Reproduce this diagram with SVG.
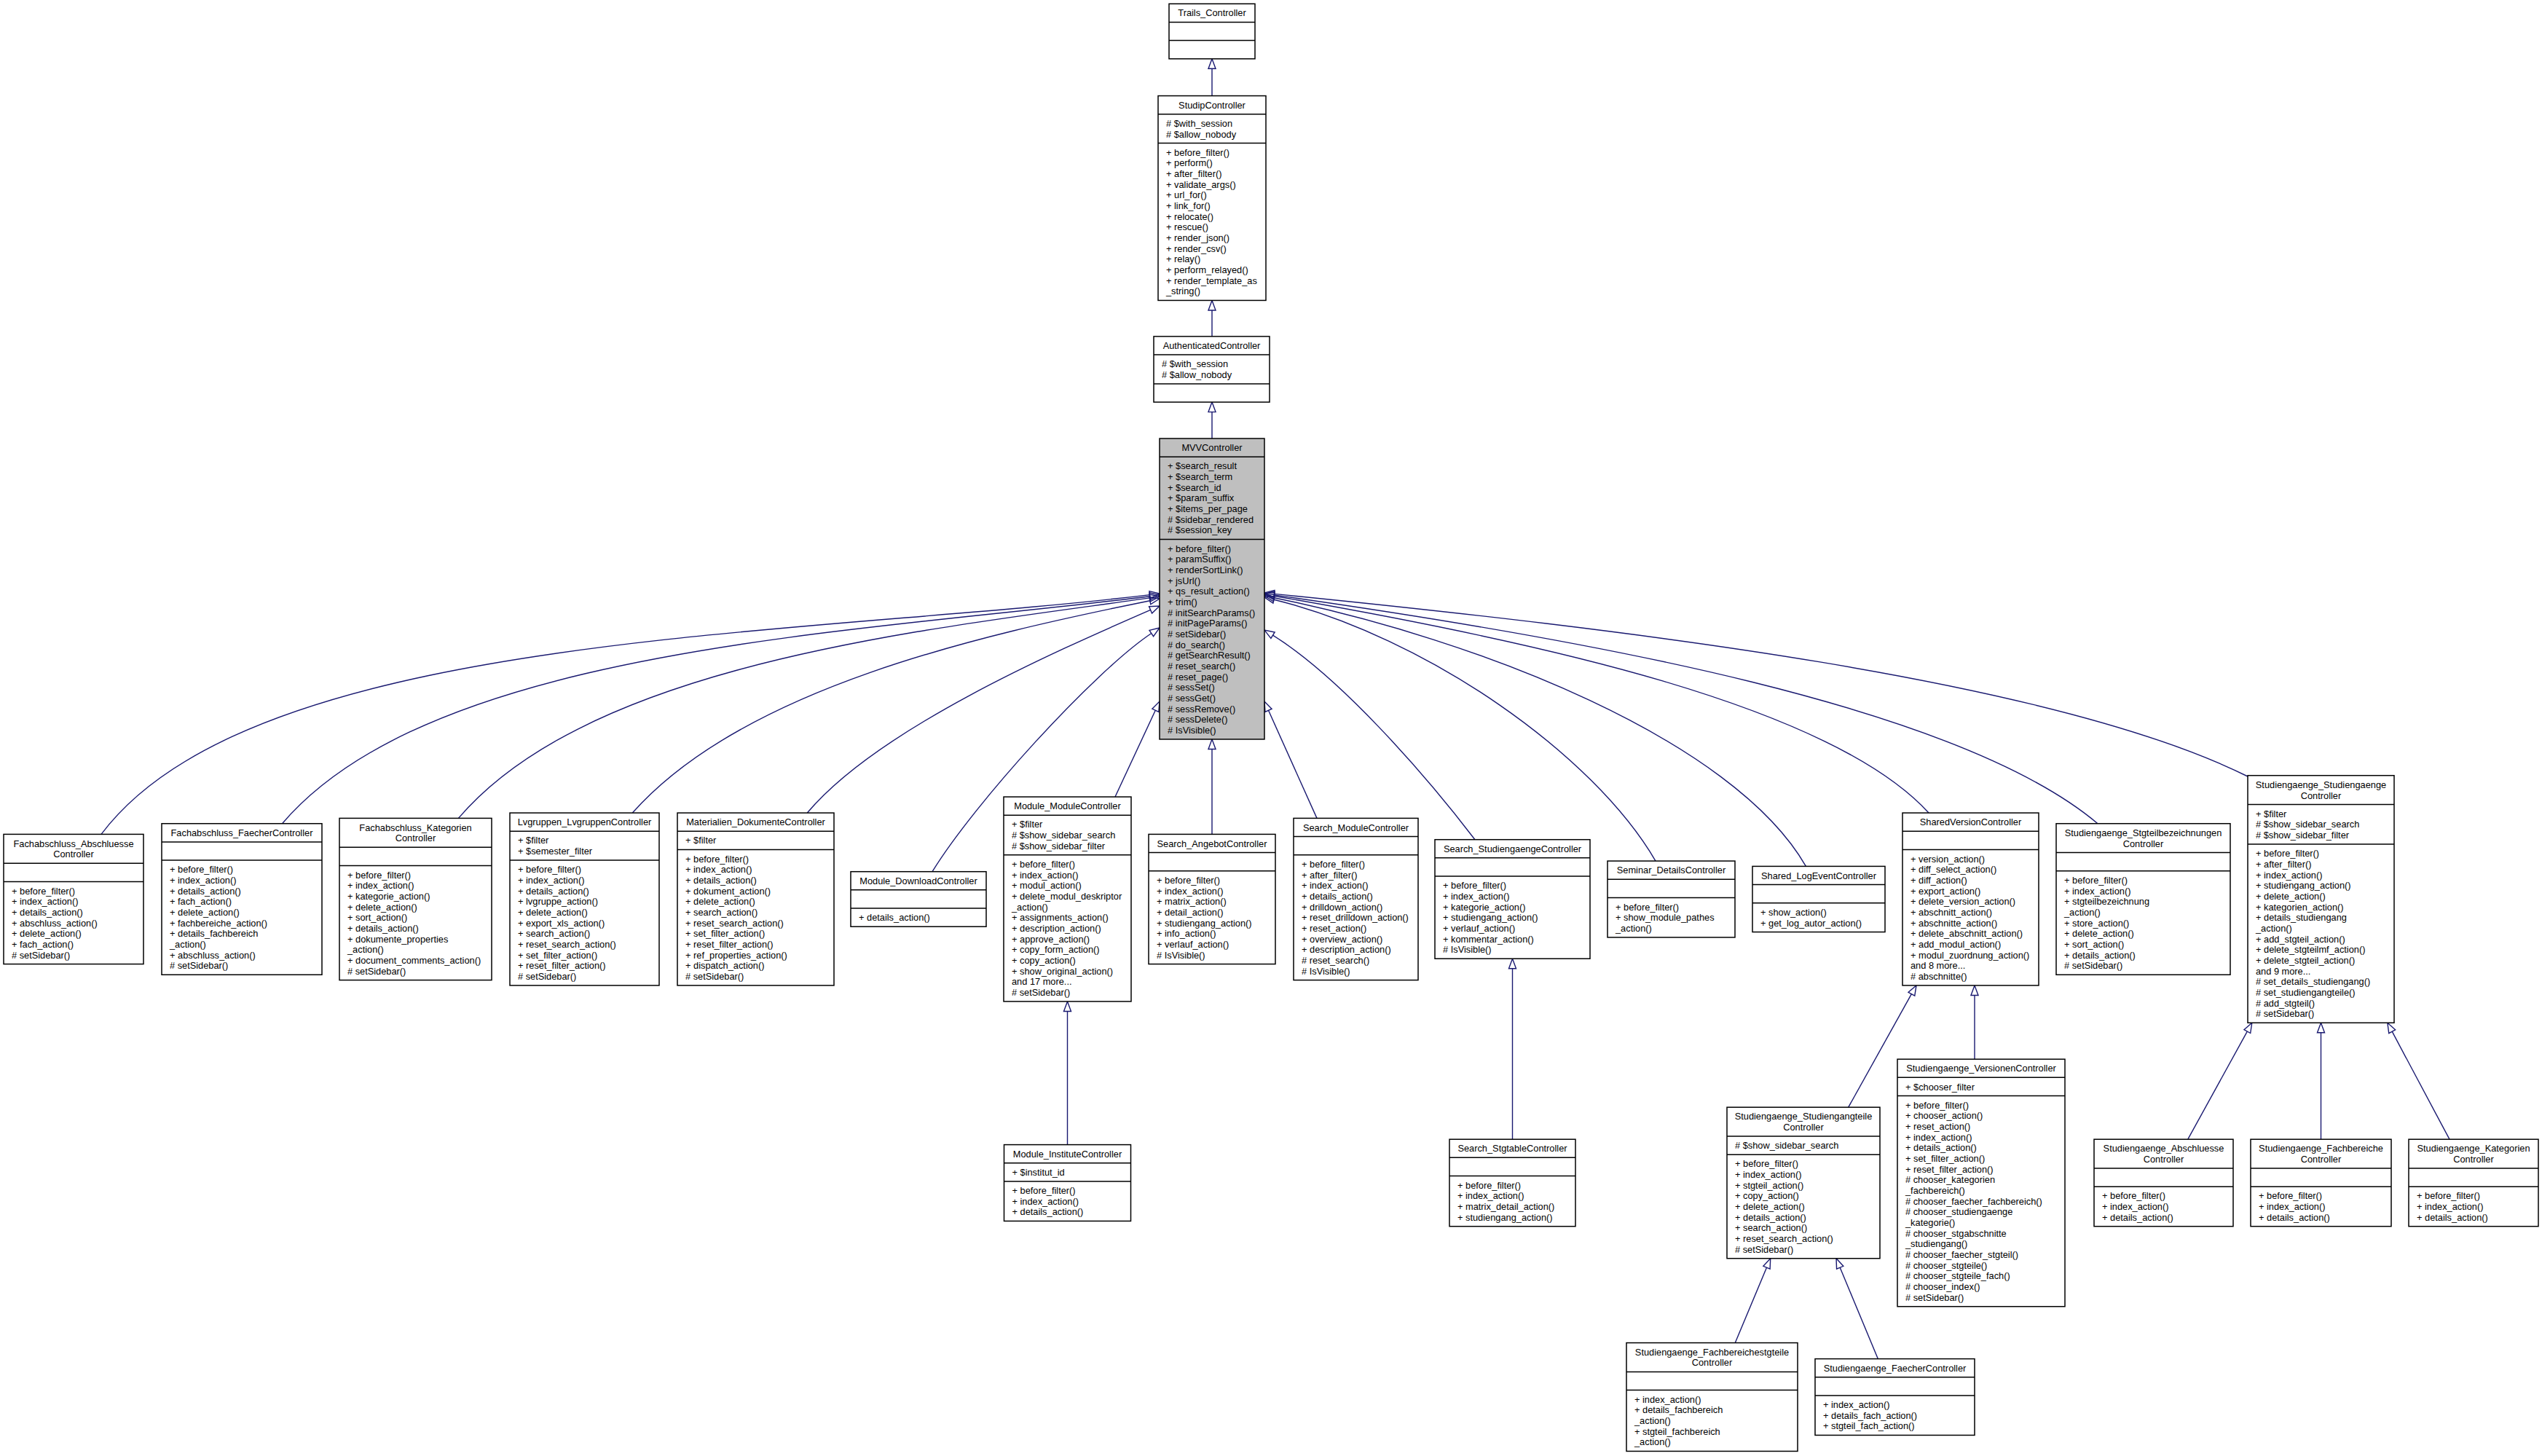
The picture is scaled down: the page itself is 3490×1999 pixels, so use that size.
<svg xmlns="http://www.w3.org/2000/svg" width="3490" height="1999" viewBox="0 0 3490 1999">
<style>
.box{fill:#fff;stroke:#000;stroke-width:1.5}
.hl{fill:#bfbfbf}
.sep{stroke:#000;stroke-width:1.5}
text{font-family:"Liberation Sans",Arial,Helvetica,sans-serif;font-size:12.8px;fill:#000}
.t{text-anchor:middle}
.e{fill:none;stroke:#191970;stroke-width:1.4;marker-end:url(#arr)}
</style>
<defs>
<marker id="arr" markerUnits="userSpaceOnUse" markerWidth="16" markerHeight="12" refX="0" refY="5" orient="auto" overflow="visible">
<path d="M0,0 L13.5,5 L0,10 Z" fill="none" stroke="#191970" stroke-width="1.4"/>
</marker>
</defs>
<rect x="0" y="0" width="3490" height="1999" fill="#fff"/>

<g id="connectors">
<path class="e" d="M1664,131.55 L1664,94.26"/>
<path class="e" d="M1664,461.9 L1664,425.94"/>
<path class="e" d="M1664,602.04 L1664,565.58"/>
<path class="e" d="M1664,1145.4 L1664,1028.46"/>
<path class="e" d="M1465.5,1571.6 L1465.5,1388.44"/>
<path class="e" d="M2076.5,1564.2 L2076.5,1329.73"/>
<path class="e" d="M2711,1454.2 L2711,1366.44"/>
<path class="e" d="M2537.7,1520.2 L2624.4,1364.7"/>
<path class="e" d="M2382.3,1843.6 L2425.5,1740.2"/>
<path class="e" d="M2578.3,1865.6 L2526.2,1740.2"/>
<path class="e" d="M3003.8,1564.2 L3085.3,1416.1"/>
<path class="e" d="M3186.5,1564.2 L3186.5,1417.77"/>
<path class="e" d="M3363,1564.2 L3284.2,1416.2"/>
<path class="e" d="M139,1145.4 C349,865.4 1097,875 1578.6,816.6"/>
<path class="e" d="M387.5,1130.7 C595.5,887.5 1175.4,869.5 1578.6,818.7"/>
<path class="e" d="M629.4,1123.4 C811.4,910.6 1265.3,865.2 1578.6,820.9"/>
<path class="e" d="M868.3,1116.06 C1021,944 1347,872 1578.8,824.7"/>
<path class="e" d="M1108.3,1116.06 C1204.8,1001.2 1445.3,895.8 1579.6,837.4"/>
<path class="e" d="M1280,1196.7 C1337.5,1103 1500.7,923.3 1580.8,869.5"/>
<path class="e" d="M1531,1094.05 L1586.3,975.24"/>
<path class="e" d="M1808,1123.4 L1741.5,975.3"/>
<path class="e" d="M2025,1152.7 C1952,1057.4 1838,928.6 1747.5,872.2"/>
<path class="e" d="M2273,1182.1 C2187.3,1035.2 1959.1,875.2 1749.1,823.2"/>
<path class="e" d="M2479.4,1189.4 C2380,1015.8 2030,878 1749.2,820.7"/>
<path class="e" d="M2648,1116.06 C2513.4,968.3 2110.3,880.6 1749.3,818.3"/>
<path class="e" d="M2880,1130.73 C2689,969.5 2181.5,878 1749.4,816.9"/>
<path class="e" d="M3086,1066 C2818.4,932.7 2233.5,864 1749.4,815.35"/>
</g>

<g id="Trails_Controller">
<rect class="box" x="1605" y="5.25" width="118" height="75.51"/>
<line class="sep" x1="1605" y1="30.42" x2="1723" y2="30.42"/>
<line class="sep" x1="1605" y1="55.59" x2="1723" y2="55.59"/>
<text class="t" x="1664" y="22.45">Trails_Controller</text>
</g>

<g id="StudipController">
<rect class="box" x="1590" y="131.55" width="148" height="280.89"/>
<line class="sep" x1="1590" y1="156.72" x2="1738" y2="156.72"/>
<line class="sep" x1="1590" y1="196.56" x2="1738" y2="196.56"/>
<text class="t" x="1664" y="148.75">StudipController</text>
<text x="1601" y="173.92"># $with_session<tspan x="1601" dy="14.67"># $allow_nobody</tspan></text>
<text x="1601" y="213.76">+ before_filter()<tspan x="1601" dy="14.67">+ perform()</tspan><tspan x="1601" dy="14.67">+ after_filter()</tspan><tspan x="1601" dy="14.67">+ validate_args()</tspan><tspan x="1601" dy="14.67">+ url_for()</tspan><tspan x="1601" dy="14.67">+ link_for()</tspan><tspan x="1601" dy="14.67">+ relocate()</tspan><tspan x="1601" dy="14.67">+ rescue()</tspan><tspan x="1601" dy="14.67">+ render_json()</tspan><tspan x="1601" dy="14.67">+ render_csv()</tspan><tspan x="1601" dy="14.67">+ relay()</tspan><tspan x="1601" dy="14.67">+ perform_relayed()</tspan><tspan x="1601" dy="14.67">+ render_template_as</tspan><tspan x="1601" dy="14.67">_string()</tspan></text>
</g>

<g id="AuthenticatedController">
<rect class="box" x="1584" y="461.9" width="159" height="90.18"/>
<line class="sep" x1="1584" y1="487.07" x2="1743" y2="487.07"/>
<line class="sep" x1="1584" y1="526.91" x2="1743" y2="526.91"/>
<text class="t" x="1663.5" y="479.1">AuthenticatedController</text>
<text x="1595" y="504.27"># $with_session<tspan x="1595" dy="14.67"># $allow_nobody</tspan></text>
</g>

<g id="MVVController">
<rect class="box hl" x="1592" y="602.04" width="144" height="412.92"/>
<line class="sep" x1="1592" y1="627.21" x2="1736" y2="627.21"/>
<line class="sep" x1="1592" y1="740.4" x2="1736" y2="740.4"/>
<text class="t" x="1664" y="619.24">MVVController</text>
<text x="1603" y="644.41">+ $search_result<tspan x="1603" dy="14.67">+ $search_term</tspan><tspan x="1603" dy="14.67">+ $search_id</tspan><tspan x="1603" dy="14.67">+ $param_suffix</tspan><tspan x="1603" dy="14.67">+ $items_per_page</tspan><tspan x="1603" dy="14.67"># $sidebar_rendered</tspan><tspan x="1603" dy="14.67"># $session_key</tspan></text>
<text x="1603" y="757.6">+ before_filter()<tspan x="1603" dy="14.67">+ paramSuffix()</tspan><tspan x="1603" dy="14.67">+ renderSortLink()</tspan><tspan x="1603" dy="14.67">+ jsUrl()</tspan><tspan x="1603" dy="14.67">+ qs_result_action()</tspan><tspan x="1603" dy="14.67">+ trim()</tspan><tspan x="1603" dy="14.67"># initSearchParams()</tspan><tspan x="1603" dy="14.67"># initPageParams()</tspan><tspan x="1603" dy="14.67"># setSidebar()</tspan><tspan x="1603" dy="14.67"># do_search()</tspan><tspan x="1603" dy="14.67"># getSearchResult()</tspan><tspan x="1603" dy="14.67"># reset_search()</tspan><tspan x="1603" dy="14.67"># reset_page()</tspan><tspan x="1603" dy="14.67"># sessSet()</tspan><tspan x="1603" dy="14.67"># sessGet()</tspan><tspan x="1603" dy="14.67"># sessRemove()</tspan><tspan x="1603" dy="14.67"># sessDelete()</tspan><tspan x="1603" dy="14.67"># IsVisible()</tspan></text>
</g>

<g id="Fachabschluss_AbschluesseController">
<rect class="box" x="5" y="1145.4" width="192" height="178.2"/>
<line class="sep" x1="5" y1="1185.24" x2="197" y2="1185.24"/>
<line class="sep" x1="5" y1="1210.41" x2="197" y2="1210.41"/>
<text class="t" x="101" y="1162.6">Fachabschluss_Abschluesse<tspan x="101" dy="14.67">Controller</tspan></text>
<text x="16" y="1227.61">+ before_filter()<tspan x="16" dy="14.67">+ index_action()</tspan><tspan x="16" dy="14.67">+ details_action()</tspan><tspan x="16" dy="14.67">+ abschluss_action()</tspan><tspan x="16" dy="14.67">+ delete_action()</tspan><tspan x="16" dy="14.67">+ fach_action()</tspan><tspan x="16" dy="14.67"># setSidebar()</tspan></text>
</g>

<g id="Fachabschluss_FaecherController">
<rect class="box" x="222" y="1130.73" width="220" height="207.54"/>
<line class="sep" x1="222" y1="1155.9" x2="442" y2="1155.9"/>
<line class="sep" x1="222" y1="1181.07" x2="442" y2="1181.07"/>
<text class="t" x="332" y="1147.93">Fachabschluss_FaecherController</text>
<text x="233" y="1198.27">+ before_filter()<tspan x="233" dy="14.67">+ index_action()</tspan><tspan x="233" dy="14.67">+ details_action()</tspan><tspan x="233" dy="14.67">+ fach_action()</tspan><tspan x="233" dy="14.67">+ delete_action()</tspan><tspan x="233" dy="14.67">+ fachbereiche_action()</tspan><tspan x="233" dy="14.67">+ details_fachbereich</tspan><tspan x="233" dy="14.67">_action()</tspan><tspan x="233" dy="14.67">+ abschluss_action()</tspan><tspan x="233" dy="14.67"># setSidebar()</tspan></text>
</g>

<g id="Fachabschluss_KategorienController">
<rect class="box" x="466" y="1123.4" width="209" height="222.21"/>
<line class="sep" x1="466" y1="1163.24" x2="675" y2="1163.24"/>
<line class="sep" x1="466" y1="1188.41" x2="675" y2="1188.41"/>
<text class="t" x="570.5" y="1140.6">Fachabschluss_Kategorien<tspan x="570.5" dy="14.67">Controller</tspan></text>
<text x="477" y="1205.61">+ before_filter()<tspan x="477" dy="14.67">+ index_action()</tspan><tspan x="477" dy="14.67">+ kategorie_action()</tspan><tspan x="477" dy="14.67">+ delete_action()</tspan><tspan x="477" dy="14.67">+ sort_action()</tspan><tspan x="477" dy="14.67">+ details_action()</tspan><tspan x="477" dy="14.67">+ dokumente_properties</tspan><tspan x="477" dy="14.67">_action()</tspan><tspan x="477" dy="14.67">+ document_comments_action()</tspan><tspan x="477" dy="14.67"># setSidebar()</tspan></text>
</g>

<g id="Lvgruppen_LvgruppenController">
<rect class="box" x="700" y="1116.06" width="205" height="236.88"/>
<line class="sep" x1="700" y1="1141.23" x2="905" y2="1141.23"/>
<line class="sep" x1="700" y1="1181.07" x2="905" y2="1181.07"/>
<text class="t" x="802.5" y="1133.26">Lvgruppen_LvgruppenController</text>
<text x="711" y="1158.43">+ $filter<tspan x="711" dy="14.67">+ $semester_filter</tspan></text>
<text x="711" y="1198.27">+ before_filter()<tspan x="711" dy="14.67">+ index_action()</tspan><tspan x="711" dy="14.67">+ details_action()</tspan><tspan x="711" dy="14.67">+ lvgruppe_action()</tspan><tspan x="711" dy="14.67">+ delete_action()</tspan><tspan x="711" dy="14.67">+ export_xls_action()</tspan><tspan x="711" dy="14.67">+ search_action()</tspan><tspan x="711" dy="14.67">+ reset_search_action()</tspan><tspan x="711" dy="14.67">+ set_filter_action()</tspan><tspan x="711" dy="14.67">+ reset_filter_action()</tspan><tspan x="711" dy="14.67"># setSidebar()</tspan></text>
</g>

<g id="Materialien_DokumenteController">
<rect class="box" x="930" y="1116.06" width="215" height="236.88"/>
<line class="sep" x1="930" y1="1141.23" x2="1145" y2="1141.23"/>
<line class="sep" x1="930" y1="1166.4" x2="1145" y2="1166.4"/>
<text class="t" x="1037.5" y="1133.26">Materialien_DokumenteController</text>
<text x="941" y="1158.43">+ $filter</text>
<text x="941" y="1183.6">+ before_filter()<tspan x="941" dy="14.67">+ index_action()</tspan><tspan x="941" dy="14.67">+ details_action()</tspan><tspan x="941" dy="14.67">+ dokument_action()</tspan><tspan x="941" dy="14.67">+ delete_action()</tspan><tspan x="941" dy="14.67">+ search_action()</tspan><tspan x="941" dy="14.67">+ reset_search_action()</tspan><tspan x="941" dy="14.67">+ set_filter_action()</tspan><tspan x="941" dy="14.67">+ reset_filter_action()</tspan><tspan x="941" dy="14.67">+ ref_properties_action()</tspan><tspan x="941" dy="14.67">+ dispatch_action()</tspan><tspan x="941" dy="14.67"># setSidebar()</tspan></text>
</g>

<g id="Module_DownloadController">
<rect class="box" x="1168" y="1196.7" width="186" height="75.51"/>
<line class="sep" x1="1168" y1="1221.87" x2="1354" y2="1221.87"/>
<line class="sep" x1="1168" y1="1247.04" x2="1354" y2="1247.04"/>
<text class="t" x="1261" y="1213.9">Module_DownloadController</text>
<text x="1179" y="1264.24">+ details_action()</text>
</g>

<g id="Module_ModuleController">
<rect class="box" x="1378" y="1094.05" width="175" height="280.89"/>
<line class="sep" x1="1378" y1="1119.22" x2="1553" y2="1119.22"/>
<line class="sep" x1="1378" y1="1173.73" x2="1553" y2="1173.73"/>
<text class="t" x="1465.5" y="1111.25">Module_ModuleController</text>
<text x="1389" y="1136.42">+ $filter<tspan x="1389" dy="14.67"># $show_sidebar_search</tspan><tspan x="1389" dy="14.67"># $show_sidebar_filter</tspan></text>
<text x="1389" y="1190.93">+ before_filter()<tspan x="1389" dy="14.67">+ index_action()</tspan><tspan x="1389" dy="14.67">+ modul_action()</tspan><tspan x="1389" dy="14.67">+ delete_modul_deskriptor</tspan><tspan x="1389" dy="14.67">_action()</tspan><tspan x="1389" dy="14.67">+ assignments_action()</tspan><tspan x="1389" dy="14.67">+ description_action()</tspan><tspan x="1389" dy="14.67">+ approve_action()</tspan><tspan x="1389" dy="14.67">+ copy_form_action()</tspan><tspan x="1389" dy="14.67">+ copy_action()</tspan><tspan x="1389" dy="14.67">+ show_original_action()</tspan><tspan x="1389" dy="14.67">and 17 more...</tspan><tspan x="1389" dy="14.67"># setSidebar()</tspan></text>
</g>

<g id="Search_AngebotController">
<rect class="box" x="1577" y="1145.4" width="174" height="178.2"/>
<line class="sep" x1="1577" y1="1170.57" x2="1751" y2="1170.57"/>
<line class="sep" x1="1577" y1="1195.74" x2="1751" y2="1195.74"/>
<text class="t" x="1664" y="1162.6">Search_AngebotController</text>
<text x="1588" y="1212.94">+ before_filter()<tspan x="1588" dy="14.67">+ index_action()</tspan><tspan x="1588" dy="14.67">+ matrix_action()</tspan><tspan x="1588" dy="14.67">+ detail_action()</tspan><tspan x="1588" dy="14.67">+ studiengang_action()</tspan><tspan x="1588" dy="14.67">+ info_action()</tspan><tspan x="1588" dy="14.67">+ verlauf_action()</tspan><tspan x="1588" dy="14.67"># IsVisible()</tspan></text>
</g>

<g id="Search_ModuleController">
<rect class="box" x="1776" y="1123.4" width="171" height="222.21"/>
<line class="sep" x1="1776" y1="1148.57" x2="1947" y2="1148.57"/>
<line class="sep" x1="1776" y1="1173.74" x2="1947" y2="1173.74"/>
<text class="t" x="1861.5" y="1140.6">Search_ModuleController</text>
<text x="1787" y="1190.94">+ before_filter()<tspan x="1787" dy="14.67">+ after_filter()</tspan><tspan x="1787" dy="14.67">+ index_action()</tspan><tspan x="1787" dy="14.67">+ details_action()</tspan><tspan x="1787" dy="14.67">+ drilldown_action()</tspan><tspan x="1787" dy="14.67">+ reset_drilldown_action()</tspan><tspan x="1787" dy="14.67">+ reset_action()</tspan><tspan x="1787" dy="14.67">+ overview_action()</tspan><tspan x="1787" dy="14.67">+ description_action()</tspan><tspan x="1787" dy="14.67"># reset_search()</tspan><tspan x="1787" dy="14.67"># IsVisible()</tspan></text>
</g>

<g id="Search_StudiengaengeController">
<rect class="box" x="1970" y="1152.7" width="213" height="163.53"/>
<line class="sep" x1="1970" y1="1177.87" x2="2183" y2="1177.87"/>
<line class="sep" x1="1970" y1="1203.04" x2="2183" y2="1203.04"/>
<text class="t" x="2076.5" y="1169.9">Search_StudiengaengeController</text>
<text x="1981" y="1220.24">+ before_filter()<tspan x="1981" dy="14.67">+ index_action()</tspan><tspan x="1981" dy="14.67">+ kategorie_action()</tspan><tspan x="1981" dy="14.67">+ studiengang_action()</tspan><tspan x="1981" dy="14.67">+ verlauf_action()</tspan><tspan x="1981" dy="14.67">+ kommentar_action()</tspan><tspan x="1981" dy="14.67"># IsVisible()</tspan></text>
</g>

<g id="Seminar_DetailsController">
<rect class="box" x="2207" y="1182.1" width="175" height="104.85"/>
<line class="sep" x1="2207" y1="1207.27" x2="2382" y2="1207.27"/>
<line class="sep" x1="2207" y1="1232.44" x2="2382" y2="1232.44"/>
<text class="t" x="2294.5" y="1199.3">Seminar_DetailsController</text>
<text x="2218" y="1249.64">+ before_filter()<tspan x="2218" dy="14.67">+ show_module_pathes</tspan><tspan x="2218" dy="14.67">_action()</tspan></text>
</g>

<g id="Shared_LogEventController">
<rect class="box" x="2406" y="1189.4" width="182" height="90.18"/>
<line class="sep" x1="2406" y1="1214.57" x2="2588" y2="1214.57"/>
<line class="sep" x1="2406" y1="1239.74" x2="2588" y2="1239.74"/>
<text class="t" x="2497" y="1206.6">Shared_LogEventController</text>
<text x="2417" y="1256.94">+ show_action()<tspan x="2417" dy="14.67">+ get_log_autor_action()</tspan></text>
</g>

<g id="SharedVersionController">
<rect class="box" x="2612" y="1116.06" width="187" height="236.88"/>
<line class="sep" x1="2612" y1="1141.23" x2="2799" y2="1141.23"/>
<line class="sep" x1="2612" y1="1166.4" x2="2799" y2="1166.4"/>
<text class="t" x="2705.5" y="1133.26">SharedVersionController</text>
<text x="2623" y="1183.6">+ version_action()<tspan x="2623" dy="14.67">+ diff_select_action()</tspan><tspan x="2623" dy="14.67">+ diff_action()</tspan><tspan x="2623" dy="14.67">+ export_action()</tspan><tspan x="2623" dy="14.67">+ delete_version_action()</tspan><tspan x="2623" dy="14.67">+ abschnitt_action()</tspan><tspan x="2623" dy="14.67">+ abschnitte_action()</tspan><tspan x="2623" dy="14.67">+ delete_abschnitt_action()</tspan><tspan x="2623" dy="14.67">+ add_modul_action()</tspan><tspan x="2623" dy="14.67">+ modul_zuordnung_action()</tspan><tspan x="2623" dy="14.67">and 8 more...</tspan><tspan x="2623" dy="14.67"># abschnitte()</tspan></text>
</g>

<g id="Studiengaenge_StgteilbezeichnungenController">
<rect class="box" x="2823" y="1130.73" width="239" height="207.54"/>
<line class="sep" x1="2823" y1="1170.57" x2="3062" y2="1170.57"/>
<line class="sep" x1="2823" y1="1195.74" x2="3062" y2="1195.74"/>
<text class="t" x="2942.5" y="1147.93">Studiengaenge_Stgteilbezeichnungen<tspan x="2942.5" dy="14.67">Controller</tspan></text>
<text x="2834" y="1212.94">+ before_filter()<tspan x="2834" dy="14.67">+ index_action()</tspan><tspan x="2834" dy="14.67">+ stgteilbezeichnung</tspan><tspan x="2834" dy="14.67">_action()</tspan><tspan x="2834" dy="14.67">+ store_action()</tspan><tspan x="2834" dy="14.67">+ delete_action()</tspan><tspan x="2834" dy="14.67">+ sort_action()</tspan><tspan x="2834" dy="14.67">+ details_action()</tspan><tspan x="2834" dy="14.67"># setSidebar()</tspan></text>
</g>

<g id="Studiengaenge_StudiengaengeController">
<rect class="box" x="3086" y="1064.7" width="201" height="339.57"/>
<line class="sep" x1="3086" y1="1104.54" x2="3287" y2="1104.54"/>
<line class="sep" x1="3086" y1="1159.05" x2="3287" y2="1159.05"/>
<text class="t" x="3186.5" y="1081.9">Studiengaenge_Studiengaenge<tspan x="3186.5" dy="14.67">Controller</tspan></text>
<text x="3097" y="1121.74">+ $filter<tspan x="3097" dy="14.67"># $show_sidebar_search</tspan><tspan x="3097" dy="14.67"># $show_sidebar_filter</tspan></text>
<text x="3097" y="1176.25">+ before_filter()<tspan x="3097" dy="14.67">+ after_filter()</tspan><tspan x="3097" dy="14.67">+ index_action()</tspan><tspan x="3097" dy="14.67">+ studiengang_action()</tspan><tspan x="3097" dy="14.67">+ delete_action()</tspan><tspan x="3097" dy="14.67">+ kategorien_action()</tspan><tspan x="3097" dy="14.67">+ details_studiengang</tspan><tspan x="3097" dy="14.67">_action()</tspan><tspan x="3097" dy="14.67">+ add_stgteil_action()</tspan><tspan x="3097" dy="14.67">+ delete_stgteilmf_action()</tspan><tspan x="3097" dy="14.67">+ delete_stgteil_action()</tspan><tspan x="3097" dy="14.67">and 9 more...</tspan><tspan x="3097" dy="14.67"># set_details_studiengang()</tspan><tspan x="3097" dy="14.67"># set_studiengangteile()</tspan><tspan x="3097" dy="14.67"># add_stgteil()</tspan><tspan x="3097" dy="14.67"># setSidebar()</tspan></text>
</g>

<g id="Module_InstituteController">
<rect class="box" x="1378.5" y="1571.6" width="174" height="104.85"/>
<line class="sep" x1="1378.5" y1="1596.77" x2="1552.5" y2="1596.77"/>
<line class="sep" x1="1378.5" y1="1621.94" x2="1552.5" y2="1621.94"/>
<text class="t" x="1465.5" y="1588.8">Module_InstituteController</text>
<text x="1389.5" y="1613.97">+ $institut_id</text>
<text x="1389.5" y="1639.14">+ before_filter()<tspan x="1389.5" dy="14.67">+ index_action()</tspan><tspan x="1389.5" dy="14.67">+ details_action()</tspan></text>
</g>

<g id="Search_StgtableController">
<rect class="box" x="1990" y="1564.2" width="173" height="119.52"/>
<line class="sep" x1="1990" y1="1589.37" x2="2163" y2="1589.37"/>
<line class="sep" x1="1990" y1="1614.54" x2="2163" y2="1614.54"/>
<text class="t" x="2076.5" y="1581.4">Search_StgtableController</text>
<text x="2001" y="1631.74">+ before_filter()<tspan x="2001" dy="14.67">+ index_action()</tspan><tspan x="2001" dy="14.67">+ matrix_detail_action()</tspan><tspan x="2001" dy="14.67">+ studiengang_action()</tspan></text>
</g>

<g id="Studiengaenge_StudiengangteileController">
<rect class="box" x="2371" y="1520.2" width="210" height="207.54"/>
<line class="sep" x1="2371" y1="1560.04" x2="2581" y2="1560.04"/>
<line class="sep" x1="2371" y1="1585.21" x2="2581" y2="1585.21"/>
<text class="t" x="2476" y="1537.4">Studiengaenge_Studiengangteile<tspan x="2476" dy="14.67">Controller</tspan></text>
<text x="2382" y="1577.24"># $show_sidebar_search</text>
<text x="2382" y="1602.41">+ before_filter()<tspan x="2382" dy="14.67">+ index_action()</tspan><tspan x="2382" dy="14.67">+ stgteil_action()</tspan><tspan x="2382" dy="14.67">+ copy_action()</tspan><tspan x="2382" dy="14.67">+ delete_action()</tspan><tspan x="2382" dy="14.67">+ details_action()</tspan><tspan x="2382" dy="14.67">+ search_action()</tspan><tspan x="2382" dy="14.67">+ reset_search_action()</tspan><tspan x="2382" dy="14.67"># setSidebar()</tspan></text>
</g>

<g id="Studiengaenge_VersionenController">
<rect class="box" x="2605" y="1454.2" width="230" height="339.57"/>
<line class="sep" x1="2605" y1="1479.37" x2="2835" y2="1479.37"/>
<line class="sep" x1="2605" y1="1504.54" x2="2835" y2="1504.54"/>
<text class="t" x="2720" y="1471.4">Studiengaenge_VersionenController</text>
<text x="2616" y="1496.57">+ $chooser_filter</text>
<text x="2616" y="1521.74">+ before_filter()<tspan x="2616" dy="14.67">+ chooser_action()</tspan><tspan x="2616" dy="14.67">+ reset_action()</tspan><tspan x="2616" dy="14.67">+ index_action()</tspan><tspan x="2616" dy="14.67">+ details_action()</tspan><tspan x="2616" dy="14.67">+ set_filter_action()</tspan><tspan x="2616" dy="14.67">+ reset_filter_action()</tspan><tspan x="2616" dy="14.67"># chooser_kategorien</tspan><tspan x="2616" dy="14.67">_fachbereich()</tspan><tspan x="2616" dy="14.67"># chooser_faecher_fachbereich()</tspan><tspan x="2616" dy="14.67"># chooser_studiengaenge</tspan><tspan x="2616" dy="14.67">_kategorie()</tspan><tspan x="2616" dy="14.67"># chooser_stgabschnitte</tspan><tspan x="2616" dy="14.67">_studiengang()</tspan><tspan x="2616" dy="14.67"># chooser_faecher_stgteil()</tspan><tspan x="2616" dy="14.67"># chooser_stgteile()</tspan><tspan x="2616" dy="14.67"># chooser_stgteile_fach()</tspan><tspan x="2616" dy="14.67"># chooser_index()</tspan><tspan x="2616" dy="14.67"># setSidebar()</tspan></text>
</g>

<g id="Studiengaenge_AbschluesseController">
<rect class="box" x="2875" y="1564.2" width="191" height="119.52"/>
<line class="sep" x1="2875" y1="1604.04" x2="3066" y2="1604.04"/>
<line class="sep" x1="2875" y1="1629.21" x2="3066" y2="1629.21"/>
<text class="t" x="2970.5" y="1581.4">Studiengaenge_Abschluesse<tspan x="2970.5" dy="14.67">Controller</tspan></text>
<text x="2886" y="1646.41">+ before_filter()<tspan x="2886" dy="14.67">+ index_action()</tspan><tspan x="2886" dy="14.67">+ details_action()</tspan></text>
</g>

<g id="Studiengaenge_FachbereicheController">
<rect class="box" x="3090" y="1564.2" width="193" height="119.52"/>
<line class="sep" x1="3090" y1="1604.04" x2="3283" y2="1604.04"/>
<line class="sep" x1="3090" y1="1629.21" x2="3283" y2="1629.21"/>
<text class="t" x="3186.5" y="1581.4">Studiengaenge_Fachbereiche<tspan x="3186.5" dy="14.67">Controller</tspan></text>
<text x="3101" y="1646.41">+ before_filter()<tspan x="3101" dy="14.67">+ index_action()</tspan><tspan x="3101" dy="14.67">+ details_action()</tspan></text>
</g>

<g id="Studiengaenge_KategorienController">
<rect class="box" x="3307" y="1564.2" width="178" height="119.52"/>
<line class="sep" x1="3307" y1="1604.04" x2="3485" y2="1604.04"/>
<line class="sep" x1="3307" y1="1629.21" x2="3485" y2="1629.21"/>
<text class="t" x="3396" y="1581.4">Studiengaenge_Kategorien<tspan x="3396" dy="14.67">Controller</tspan></text>
<text x="3318" y="1646.41">+ before_filter()<tspan x="3318" dy="14.67">+ index_action()</tspan><tspan x="3318" dy="14.67">+ details_action()</tspan></text>
</g>

<g id="Studiengaenge_FachbereichestgteileController">
<rect class="box" x="2233" y="1843.6" width="235" height="148.86"/>
<line class="sep" x1="2233" y1="1883.44" x2="2468" y2="1883.44"/>
<line class="sep" x1="2233" y1="1908.61" x2="2468" y2="1908.61"/>
<text class="t" x="2350.5" y="1860.8">Studiengaenge_Fachbereichestgteile<tspan x="2350.5" dy="14.67">Controller</tspan></text>
<text x="2244" y="1925.81">+ index_action()<tspan x="2244" dy="14.67">+ details_fachbereich</tspan><tspan x="2244" dy="14.67">_action()</tspan><tspan x="2244" dy="14.67">+ stgteil_fachbereich</tspan><tspan x="2244" dy="14.67">_action()</tspan></text>
</g>

<g id="Studiengaenge_FaecherController">
<rect class="box" x="2492" y="1865.6" width="219" height="104.85"/>
<line class="sep" x1="2492" y1="1890.77" x2="2711" y2="1890.77"/>
<line class="sep" x1="2492" y1="1915.94" x2="2711" y2="1915.94"/>
<text class="t" x="2601.5" y="1882.8">Studiengaenge_FaecherController</text>
<text x="2503" y="1933.14">+ index_action()<tspan x="2503" dy="14.67">+ details_fach_action()</tspan><tspan x="2503" dy="14.67">+ stgteil_fach_action()</tspan></text>
</g>
</svg>
